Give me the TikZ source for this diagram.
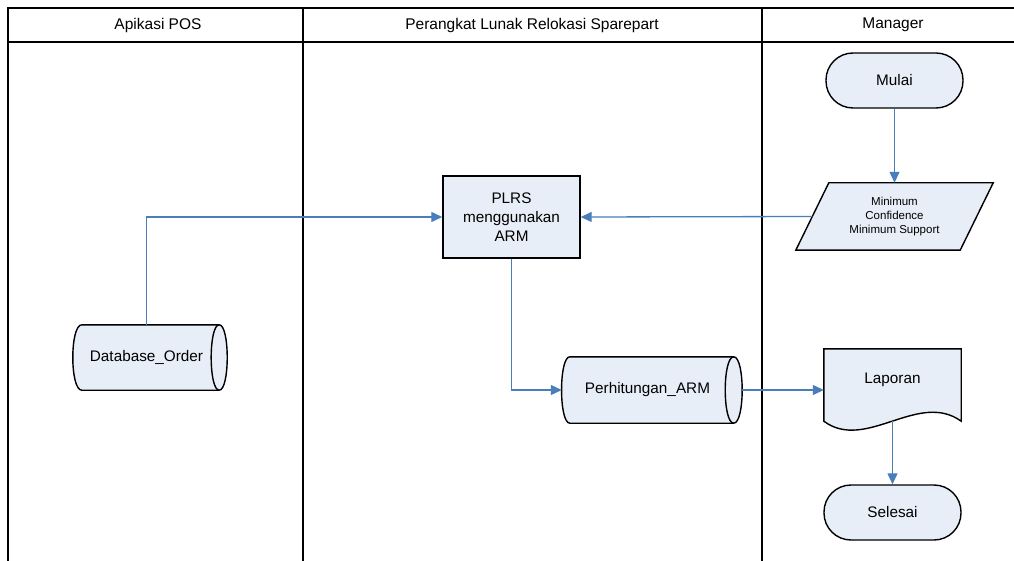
\documentclass[tikz,border=0pt]{standalone}
\usepackage{fontspec}
\setmainfont{Liberation Sans}
\usetikzlibrary{arrows.meta,calc}
\pgfdeclarelayer{background}
\pgfsetlayers{background,main}
\definecolor{shapefill}{HTML}{E8EEF7}
\definecolor{flowblue}{HTML}{4A7EBB}
\begin{document}
\begin{tikzpicture}[x=1pt,y=-1pt,
  lane/.style={line width=1.8pt, draw=black},
  lanetitle/.style={font=\fontsize{15.5}{18}\selectfont, inner sep=0pt},
  body/.style={font=\fontsize{15.3}{19}\selectfont, align=center, inner sep=0pt},
  smalltext/.style={font=\fontsize{11.5}{14}\selectfont, align=center, inner sep=0pt},
  procbox/.style={body, draw=black, line width=1.4pt, fill=shapefill,
    minimum width=137pt, minimum height=82pt},
  terminal/.style={body, draw=black, line width=1.4pt, fill=shapefill,
    rounded corners=27pt, minimum width=137pt, minimum height=55pt},
  outline/.style={draw=black, line width=1.4pt, fill=shapefill},
  flow/.style={draw=flowblue, line width=1.3pt, -{Triangle[length=11pt,width=10pt]}},
]
\useasboundingbox (0,0) rectangle (1014,561);

% swimlane frame
\draw[lane] (1014,8) -- (8,8) -- (8,561);
\draw[lane] (8,42) -- (1014,42);
\draw[lane] (303,8) -- (303,561);
\draw[lane] (762,8) -- (762,561);

\node[lanetitle] (t1) at (158,25) {Apikasi POS};
\node[lanetitle] (t2) at (532,25) {Perangkat Lunak Relokasi Sparepart};
\node[lanetitle] (t3) at (893,25) {Manager};

% flowchart symbols
\node[terminal] (mulai) at (894.5,80.5) {Mulai};
\node[terminal] (selesai) at (892.5,512.5) {Selesai};
\node[procbox] (plrs) at (511.5,217) {PLRS\\menggunakan\\ARM};
\node[smalltext, minimum width=164pt, minimum height=67pt] (par) at (894.5,216.5)
  {Minimum\\Confidence\\Minimum Support};
\node[body, minimum width=129pt, minimum height=65pt] (dbo) at (146.5,357.5) {Database\_Order};
\node[body, minimum width=155pt, minimum height=66pt] (pha) at (647.5,390) {Perhitungan\_ARM};
\node[body, minimum width=137pt, minimum height=62pt] (lap) at (892.5,380) {Laporan};

\begin{pgfonlayer}{background}
  \fill[white] (0,0) rectangle (1014,561);
  % data input (parallelogram)
  \path[outline] ($(par.north west)+(16.5,0)$) -- ($(par.north east)+(16.5,0)$)
    -- ($(par.south east)+(-16.5,0)$) -- ($(par.south west)+(-16.5,0)$) -- cycle;
  % stored data: Database_Order
  \path[outline] (dbo.north west)
    .. controls ($(dbo.north west)+(-12,0)$) and ($(dbo.south west)+(-12,0)$) .. (dbo.south west)
    -- ($(dbo.south east)+(8,0)$)
    .. controls ($(dbo.south east)+(18.7,0)$) and ($(dbo.north east)+(18.7,0)$) .. ($(dbo.north east)+(8,0)$)
    -- cycle;
  \draw[line width=1.4pt] ($(dbo.north east)+(8,0)$)
    .. controls ($(dbo.north east)+(-2.7,0)$) and ($(dbo.south east)+(-2.7,0)$) .. ($(dbo.south east)+(8,0)$);
  % stored data: Perhitungan_ARM
  \path[outline] (pha.north west)
    .. controls ($(pha.north west)+(-11,0)$) and ($(pha.south west)+(-11,0)$) .. (pha.south west)
    -- ($(pha.south east)+(8.5,0)$)
    .. controls ($(pha.south east)+(19.8,0)$) and ($(pha.north east)+(19.8,0)$) .. ($(pha.north east)+(8.5,0)$)
    -- cycle;
  \draw[line width=1.4pt] ($(pha.north east)+(8.5,0)$)
    .. controls ($(pha.north east)+(-2.8,0)$) and ($(pha.south east)+(-2.8,0)$) .. ($(pha.south east)+(8.5,0)$);
  % document: Laporan
  \path[outline] (lap.north west) -- (lap.north east) -- ($(lap.south east)+(0,10)$)
    .. controls ($(lap.south east)+(-43,-21)$) and ($(lap.south west)+(42,41)$) .. ($(lap.south west)+(0,10)$)
    -- cycle;
\end{pgfonlayer}

% connectors
\coordinate (phain) at ($(pha.west)+(-8,0)$);
\coordinate (phaout) at ($(pha.east)+(17,0)$);
\coordinate (lapout) at ($(lap.south)+(0,10)$);

\draw[flow] (mulai.south) -- (par.north);
\draw[flow] (par.west) -- (plrs.east);
\draw[flow] (dbo.north) |- (plrs.west);
\draw[flow] (plrs.south) |- (phain);
\draw[flow] (phaout) -- (phaout -| lap.west);
\draw[flow] (lapout) -- (selesai.north);
\end{tikzpicture}
\end{document}
